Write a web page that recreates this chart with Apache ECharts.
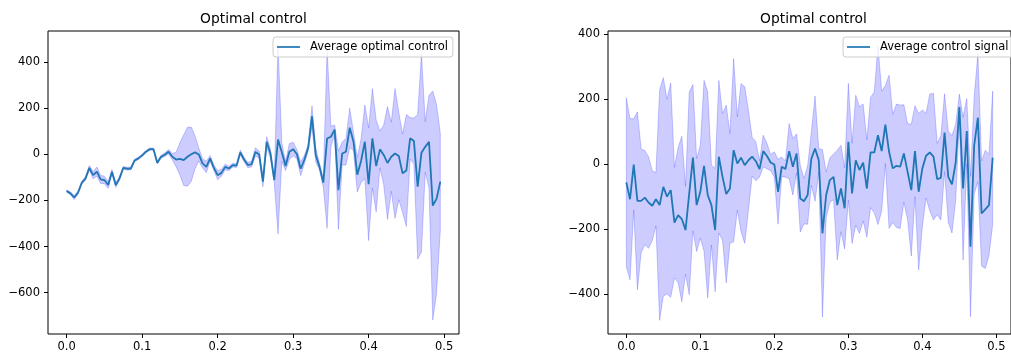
<!DOCTYPE html>
<html>
<head>
<meta charset="utf-8">
<script src="https://cdn.jsdelivr.net/npm/echarts@6/dist/echarts.min.js"></script>
<style>
  html, body { margin: 0; padding: 0; background: #fff; }
  #chart { width: 1011px; height: 353px; }
</style>
</head>
<body>
<div id="chart"></div>
<script>
// Sample times: 100 steps of 0.005 s
const t = Array.from({ length: 100 }, (_, i) => +(i * 0.005).toFixed(3));

// Left panel: average optimal control and its spread (band = mean ± spread)
const leftMean = [
  -159,-169,-187,-166,-123,-104,-58,-90,-75,-108,
  -111,-133,-75,-133,-104,-58,-62,-61,-26,-17,
  -4,12,23,23,-36,-10,-1,12,-10,-22,
  -19,-25,-10,1,9,0,-39,-54,-17,-58,
  -90,-80,-54,-61,-46,-49,9,-22,-46,-42,
  11,0,-118,55,3,-111,65,10,-50,12,
  23,1,-62,-22,30,166,-3,-54,-123,69,
  77,108,-155,4,12,116,55,-88,-28,55,
  -129,70,-50,22,-2,-37,-10,4,-7,-82,
  -70,70,58,-140,7,33,55,-222,-193,-118
];
const leftSpread = [
  5,6,9,6,6,8,10,16,20,18,
  16,14,10,10,8,6,6,6,5,5,
  5,5,5,5,6,6,8,10,14,32,
  70,110,128,118,72,28,20,25,12,12,
  20,15,12,10,8,8,10,10,12,12,
  18,15,22,22,20,12,410,40,20,35,
  30,20,30,18,15,45,30,15,20,390,
  45,20,170,50,58,85,40,75,95,160,
  245,216,200,80,130,245,150,282,190,170,
  243,90,100,315,431,110,202,497,410,210
];

// Right panel: average control signal and its spread
const rightMean = [
  -56,-108,-1,-113,-113,-103,-118,-128,-108,-126,
  -70,-100,-80,-180,-157,-169,-203,-90,20,-126,
  -85,-5,-95,-126,-203,23,-39,-92,-75,43,
  2,20,-3,12,23,9,-15,40,25,5,
  -1,-85,-8,-15,40,-8,33,-106,-114,-95,
  17,48,12,-213,-95,-49,-39,-126,-75,-136,
  69,-90,12,-18,5,-75,36,36,89,40,
  122,38,-13,-5,-8,33,-23,-80,40,-85,
  -13,26,36,23,-46,-42,97,-39,-62,5,
  176,-75,102,-254,58,143,-152,-139,-126,20
];
const rightSpread = [
  260,248,141,274,160,145,141,108,82,355,
  336,300,330,170,208,255,135,312,225,143,
  143,263,317,123,190,235,195,274,169,282,
  144,228,241,154,60,60,25,49,39,25,
  39,100,30,25,85,87,60,103,70,90,
  82,162,36,258,71,69,70,169,133,125,
  180,154,200,195,180,150,170,186,275,185,
  120,236,167,190,190,150,148,203,140,241,
  180,130,180,195,110,130,120,140,150,118,
  40,220,100,216,150,197,162,182,156,205
];

// Tick labels
const xTicks = [0, 0.1, 0.2, 0.3, 0.4, 0.5];
const leftYTicks = [-600, -400, -200, 0, 200, 400];
const rightYTicks = [-400, -200, 0, 200, 400];

const titles = ['Optimal control', 'Optimal control'];
const leftName = 'Average optimal control';
const rightName = 'Average control signal';

const FONT = 'DejaVu Sans';
const TICK_SIZE = 11.5;
const TITLE_SIZE = 13.8;
const LINE_COLOR = '#1f77b4';
const BAND_COLOR = 'rgba(0,0,255,0.2)';

const minus = v => String(v).replace('-', '\u2212');

function xAxisFor(gridIndex) {
  return {
    type: 'value', gridIndex,
    min: -0.02475, max: 0.51975,
    axisLine: { show: false, onZero: false },
    splitLine: { show: false },
    axisTick: { show: true, length: 4, customValues: xTicks, lineStyle: { color: '#000', width: 1 } },
    axisLabel: {
      customValues: xTicks, margin: 7,
      formatter: v => v.toFixed(1),
      fontFamily: FONT, fontSize: TICK_SIZE, color: '#000'
    }
  };
}
function yAxisFor(gridIndex, min, max, ticks) {
  return {
    type: 'value', gridIndex, min, max,
    axisLine: { show: false, onZero: false },
    splitLine: { show: false },
    axisTick: { show: true, length: 4, customValues: ticks, lineStyle: { color: '#000', width: 1 } },
    axisLabel: {
      customValues: ticks, margin: 8,
      formatter: minus,
      fontFamily: FONT, fontSize: TICK_SIZE, color: '#000'
    }
  };
}

// Shaded band from mean - spread to mean + spread, drawn as one polygon
function bandSeries(idx, mean, spread) {
  const rows = t.map((x, i) => [x, mean[i] - spread[i], mean[i] + spread[i]]);
  return {
    type: 'custom', xAxisIndex: idx, yAxisIndex: idx, z: 1,
    silent: true,
    data: rows,
    encode: { x: 0, y: [1, 2] },
    renderItem: (params, api) => {
      if (params.dataIndex !== 0) return null;
      const upper = rows.map(r => api.coord([r[0], r[2]]));
      const lower = rows.map(r => api.coord([r[0], r[1]])).reverse();
      return {
        type: 'polygon',
        shape: { points: upper.concat(lower) },
        style: { fill: BAND_COLOR, stroke: BAND_COLOR, lineWidth: 1 }
      };
    }
  };
}
function meanSeries(idx, name, mean) {
  return {
    type: 'line', name, xAxisIndex: idx, yAxisIndex: idx, z: 3,
    data: t.map((x, i) => [x, mean[i]]),
    showSymbol: false, symbol: 'none',
    lineStyle: { color: LINE_COLOR, width: 1.8 },
    itemStyle: { color: LINE_COLOR }
  };
}
function legendFor(name, left) {
  return {
    left, top: 37,
    orient: 'horizontal',
    data: [{ name, icon: 'path://M0,0H24V1.8H0Z' }],
    itemWidth: 23, itemHeight: 12,
    padding: [3, 5, 3, 4],
    backgroundColor: 'rgba(255,255,255,0.8)',
    borderColor: '#cccccc', borderWidth: 1, borderRadius: 3,
    textStyle: { fontFamily: FONT, fontSize: TICK_SIZE, lineHeight: 14, color: '#000', padding: [0, 0, 0, 5] },
    selectedMode: false
  };
}

const chart = echarts.init(document.getElementById('chart'), null, { renderer: 'canvas' });
chart.setOption({
  backgroundColor: '#fff',
  animation: false,
  grid: [
    { left: 48, top: 31, width: 411, height: 303, show: true, borderColor: '#000', borderWidth: 1, backgroundColor: 'transparent' },
    { left: 608, top: 31, width: 411, height: 303, show: true, borderColor: '#000', borderWidth: 1, backgroundColor: 'transparent' }
  ],
  xAxis: [xAxisFor(0), xAxisFor(1)],
  yAxis: [
    yAxisFor(0, -779.6, 536, leftYTicks),
    yAxisFor(1, -523, 410, rightYTicks)
  ],
  legend: [legendFor(leftName, 273), legendFor(rightName, 843)],
  graphic: [
    { type: 'text', x: 253.5, y: 12, style: { text: titles[0], textAlign: 'center', font: TITLE_SIZE + 'px "DejaVu Sans"', fill: '#000' } },
    { type: 'text', x: 813.5, y: 12, style: { text: titles[1], textAlign: 'center', font: TITLE_SIZE + 'px "DejaVu Sans"', fill: '#000' } }
  ],
  series: [
    bandSeries(0, leftMean, leftSpread),
    meanSeries(0, leftName, leftMean),
    bandSeries(1, rightMean, rightSpread),
    meanSeries(1, rightName, rightMean)
  ]
});
</script>
</body>
</html>
